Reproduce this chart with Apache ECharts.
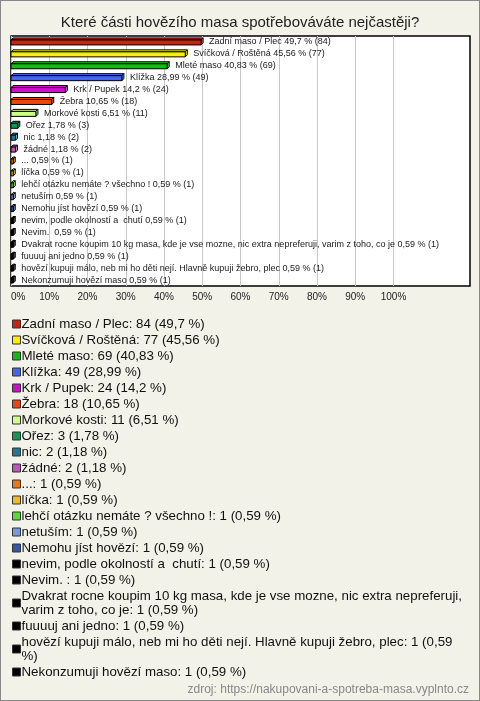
<!DOCTYPE html>
<html><head><meta charset="utf-8">
<script src="https://cdn.jsdelivr.net/npm/echarts@6/dist/echarts.min.js"></script>
<style>
html,body{margin:0;padding:0;background:#f3f2e9;}
#c{width:480px;height:701px;box-sizing:border-box;border:1px solid #888;}
</style></head>
<body><div id="c"></div>
<script>
const titleText = 'Které části hovězího masa spotřebováváte nejčastěji?';
const sourceText = 'zdroj: https://nakupovani-a-spotreba-masa.vyplnto.cz';
const categories = [
  'Zadní maso / Plec', 'Svíčková / Roštěná', 'Mleté maso', 'Klížka', 'Krk / Pupek', 'Žebra',
  'Morkové kosti', 'Ořez', 'nic', 'žádné', '...', 'líčka', 'lehčí otázku nemáte ? všechno !',
  'netuším', 'Nemohu jíst hovězí', 'nevim, podle okolností a  chutí', 'Nevim. ',
  'Dvakrat rocne koupim 10 kg masa, kde je vse mozne, nic extra nepreferuji, varim z toho, co je',
  'fuuuuj ani jedno', 'hovězí kupuji málo, neb mi ho děti nejí. Hlavně kupuji žebro, plec',
  'Nekonzumuji hovězí maso'
];
const counts = [84, 77, 69, 49, 24, 18, 11, 3, 2, 2, 1, 1, 1, 1, 1, 1, 1, 1, 1, 1, 1];
const percents = [49.7, 45.56, 40.83, 28.99, 14.2, 10.65, 6.51, 1.78, 1.18, 1.18, 0.59, 0.59, 0.59, 0.59, 0.59, 0.59, 0.59, 0.59, 0.59, 0.59, 0.59];
const colors = ['#cc2211', '#ffee00', '#11bb11', '#4466ee', '#cc11cc', '#ee4411', '#ccff88', '#119955', '#227799', '#bb55bb', '#ee7711', '#eebb22', '#55dd33', '#7799dd', '#3355aa', '#000000', '#000000', '#000000', '#000000', '#000000', '#000000'];
const tickValues = [0, 10, 20, 30, 40, 50, 60, 70, 80, 90, 100];

const fmtPct = p => String(p).replace('.', ',');
const FONT = '"Liberation Sans", Arial, sans-serif';

function makeRender(color, labelText) {
  return function (params, api) {
    const y = api.value(1);
    const a = api.coord([0, y]);
    const b = api.coord([api.value(0), y]);
    const x0 = a[0], x1 = b[0], yc = b[1];
    const d = 2;
    const yt = yc - 2, yb = yc + 3;
    const light = echarts.color.lift(color, -0.1);
    const dark = echarts.color.lift(color, 0.35);
    return {
      type: 'group',
      children: [
        { type: 'polygon', shape: { points: [[x0, yt], [x0 + d, yt - d], [x1 + d, yt - d], [x1, yt]] },
          style: { fill: light, stroke: '#000', lineWidth: 1 } },
        { type: 'polygon', shape: { points: [[x1, yt], [x1 + d, yt - d], [x1 + d, yb - d], [x1, yb]] },
          style: { fill: dark, stroke: '#000', lineWidth: 1 } },
        { type: 'rect', shape: { x: x0, y: yt, width: Math.max(x1 - x0, 0.5), height: yb - yt },
          style: { fill: color, stroke: '#000', lineWidth: 1 } },
        { type: 'text', x: x1 + d + 6, y: yc,
          style: { text: labelText, fill: '#1a1a1a', font: '9px ' + FONT, verticalAlign: 'middle', align: 'left' } }
      ]
    };
  };
}

const series = categories.map((name, i) => ({
  type: 'custom',
  name: name,
  color: colors[i],
  itemStyle: { color: colors[i] },
  renderItem: makeRender(colors[i], name + ' ' + fmtPct(percents[i]) + ' % (' + counts[i] + ')'),
  encode: { x: 0, y: 1 },
  data: [[percents[i], i]],
  clip: false
}));

const splitColors = [];
for (let v = 0; v <= 120; v += 10) splitColors.push(tickValues.indexOf(v) >= 0 ? '#c8c8c8' : 'rgba(0,0,0,0)');

// legend entries; the long "hovězí ..." entry gets a slightly wider wrap box
// (its accented letters are over-measured by the text wrapper)
const legendData = categories.map(name => (
  /^hovězí kupuji/.test(name) ? { name: name, textStyle: { width: 492 } } : { name: name }
));

const chart = echarts.init(document.getElementById('c'), null, { renderer: 'canvas' });
chart.setOption({
  backgroundColor: '#f3f2e9',
  animation: false,
  textStyle: { fontFamily: FONT },
  title: {
    text: titleText, left: 'center', top: 9,
    textStyle: { fontSize: 15, fontWeight: 'normal', color: '#222', fontFamily: FONT }
  },
  grid: {
    left: 10, top: 35, right: 9, bottom: 414,
    show: true, backgroundColor: '#fff', borderColor: '#000', borderWidth: 1.5
  },
  xAxis: {
    type: 'value', min: 0, max: 120, interval: 10,
    axisLine: { show: false }, axisTick: { show: false },
    axisLabel: {
      formatter: v => (tickValues.indexOf(v) >= 0 ? v + '%' : ''),
      fontSize: 10, color: '#222', margin: 6, alignMinLabel: 'left', fontFamily: FONT
    },
    splitLine: { show: true, lineStyle: { color: splitColors, width: 1 } }
  },
  yAxis: {
    type: 'category', data: categories, inverse: true,
    axisLine: { show: false }, axisTick: { show: false }, axisLabel: { show: false },
    splitLine: { show: false }
  },
  legend: {
    orient: 'vertical', left: 11, top: 316, padding: 0,
    icon: 'rect', itemWidth: 8, itemHeight: 8, itemGap: 2,
    selectedMode: false,
    itemStyle: { borderColor: '#333', borderWidth: 1 },
    data: legendData,
    formatter: name => {
      const i = categories.indexOf(name);
      return name + ': ' + counts[i] + ' (' + fmtPct(percents[i]) + ' %)';
    },
    textStyle: { fontSize: 13.3, lineHeight: 14, color: '#111', width: 458, overflow: 'break', padding: [0, 0, 0, -4], fontFamily: FONT }
  },
  graphic: [{
    type: 'text', right: 10, top: 683,
    style: { text: sourceText, fill: '#888', font: '12px ' + FONT }
  }],
  series: series
});
</script></body></html>
